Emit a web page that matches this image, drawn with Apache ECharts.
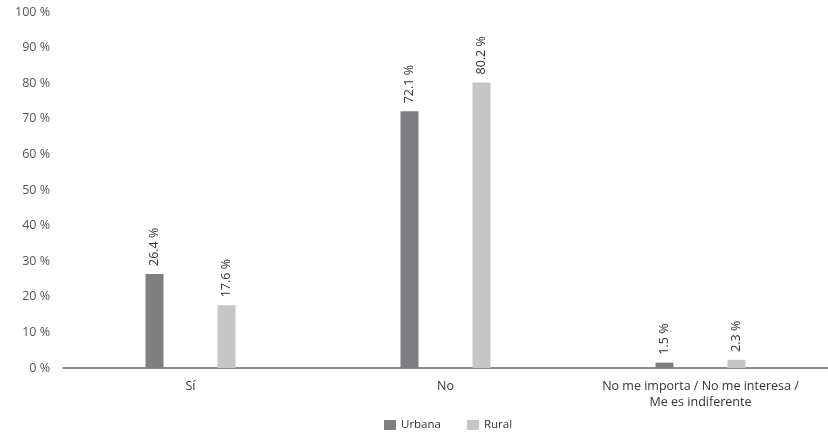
<!DOCTYPE html>
<html><head><meta charset="utf-8">
<script src="https://cdn.jsdelivr.net/npm/echarts@6/dist/echarts.min.js"></script>
<style>html,body{margin:0;padding:0;background:#fff}#c{width:828px;height:433px}</style>
</head><body><div id="c"></div>
<script>
const categories = ['Sí', 'No', 'No me importa / No me interesa /\nMe es indiferente'];
const urbana = [26.4, 72.1, 1.5];
const rural = [17.6, 80.2, 2.3];
const seriesNames = ['Urbana', 'Rural'];
const colors = ['#7f7f82', '#c6c6c8'];
const font = '"Open Sans", "Noto Sans", sans-serif';

const chart = echarts.init(document.getElementById('c'), null, {renderer: 'canvas'});
const lbl = {
  show: true, position: 'top', rotate: 90, align: 'left', verticalAlign: 'middle',
  distance: 8, fontSize: 12.5, color: '#333', fontFamily: font,
  formatter: p => p.value.toFixed(1) + ' %'
};
chart.setOption({
  animation: false,
  textStyle: {fontFamily: font},
  grid: {left: 63, right: 0, top: 12, bottom: 65, containLabel: false},
  legend: {
    top: 414, left: 379, itemWidth: 12, itemHeight: 10, itemGap: 26,
    icon: 'rect', textStyle: {fontSize: 11.5, color: '#333', fontFamily: font},
    data: seriesNames
  },
  xAxis: {
    type: 'category', data: categories,
    axisLine: {lineStyle: {color: '#666', width: 1.5}},
    axisTick: {show: false},
    axisLabel: {interval: 0, hideOverlap: false, fontSize: 12.5, color: '#333', margin: 10, lineHeight: 16, fontFamily: font}
  },
  yAxis: {
    type: 'value', min: 0, max: 100, interval: 10,
    splitLine: {show: false},
    axisLine: {show: false}, axisTick: {show: false},
    axisLabel: {fontSize: 12.5, color: '#555', margin: 13, formatter: v => v + ' %', fontFamily: font}
  },
  series: [
    {name: seriesNames[0], type: 'bar', data: urbana, barWidth: 18, barGap: '300%',
     itemStyle: {color: colors[0]}, label: lbl},
    {name: seriesNames[1], type: 'bar', data: rural, barWidth: 18, barGap: '300%',
     itemStyle: {color: colors[1]}, label: lbl}
  ]
});
</script></body></html>
